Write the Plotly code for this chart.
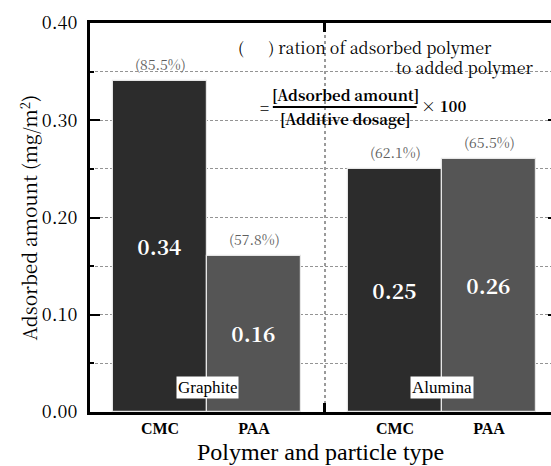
import plotly.graph_objects as go

# Adsorbed amount per polymer / particle combination
polymers = ["CMC", "PAA", "CMC", "PAA"]
particles = ["Graphite", "Graphite", "Alumina", "Alumina"]
adsorbed = [0.34, 0.16, 0.25, 0.26]          # mg/m2
ratio_pct = [85.5, 57.8, 62.1, 65.5]          # adsorbed / added polymer (%)
bar_colors = ["#2c2c2c", "#555555", "#2c2c2c", "#555555"]
y_ticks = [0.0, 0.1, 0.2, 0.3, 0.4]

# bar centres: two groups of two touching bars
xpos = [0, 1, 2.5, 3.5]
divider = 1.75
xrange = [-0.745, 4.159]

MINCHO = "Noto Serif CJK JP"
TIMES = "Liberation Serif"

fig = go.Figure()

fig.add_trace(go.Bar(
    x=xpos, y=adsorbed, width=1,
    marker=dict(color=bar_colors, line=dict(color="#e6e6e6", width=1.2)),
    text=[f"{v:.2f}" for v in adsorbed],
    textposition="inside", insidetextanchor="middle",
    textfont=dict(family=MINCHO, size=21, color="white", weight="bold"),
    textangle=0,
    showlegend=False, hoverinfo="skip",
))

# ratio labels above each bar
for xv, yv, p in zip(xpos, adsorbed, ratio_pct):
    fig.add_annotation(x=xv, y=yv, text=f"({p:.1f}%)", showarrow=False,
                       xanchor="center", yanchor="bottom", yshift=5,
                       font=dict(family=MINCHO, size=14, color="#5e5e5e"))

grid = dict(gridcolor="#949494", griddash="3px,2px", gridwidth=1)

fig.update_layout(
    width=551, height=466,
    margin=dict(l=90, r=0, t=23, b=54),
    paper_bgcolor="white", plot_bgcolor="white",
    bargap=0,
    font=dict(family=MINCHO, color="black"),
    xaxis=dict(
        range=xrange, tickmode="array", tickvals=xpos, ticktext=polymers,
        ticks="", showgrid=False, zeroline=False,
        showline=True, linecolor="black", linewidth=3, mirror=True,
        tickfont=dict(family=TIMES, size=16, weight="bold"),
    ),
    xaxis2=dict(
        range=xrange, overlaying="x", side="bottom", tickmode="array",
        tickvals=[divider], showticklabels=False,
        ticks="inside", ticklen=9, tickwidth=3, tickcolor="black",
        mirror="ticks", showline=False, zeroline=False,
        showgrid=True, gridcolor="#9a9a9a", griddash="dot", gridwidth=2,
    ),
    yaxis=dict(
        range=[0, 0.4], tickmode="array", tickvals=y_ticks,
        ticktext=[f"{t:.2f}" for t in y_ticks],
        ticks="inside", ticklen=10, tickwidth=2, tickcolor="black",
        showline=True, linecolor="black", linewidth=3,
        zeroline=False, showgrid=True, **grid,
        tickfont=dict(family=MINCHO, size=18),
        ticklabelstandoff=6,
        minor=dict(dtick=0.05, ticks="inside", ticklen=4, tickwidth=2,
                   tickcolor="black", showgrid=True, **grid),
    ),
    yaxis2=dict(
        range=[0, 0.4], overlaying="y", side="right", tickmode="array",
        tickvals=y_ticks, showticklabels=False, ticks="inside",
        ticklen=3, tickwidth=2, tickcolor="black",
        showline=False, showgrid=False, zeroline=False,
    ),
)

# invisible trace to activate the overlaid axes
fig.add_trace(go.Scatter(x=[xpos[0]], y=[0], xaxis="x2", yaxis="y2",
                         mode="markers", marker=dict(opacity=0),
                         showlegend=False, hoverinfo="skip"))

# axis titles
fig.add_annotation(text="Adsorbed amount (mg/m<sup>2</sup>)", xref="paper", yref="paper",
                   x=0, y=0.5, xshift=-62, textangle=-90, showarrow=False,
                   xanchor="center", yanchor="middle",
                   font=dict(family=MINCHO, size=19))
fig.add_annotation(text="Polymer and particle type", xref="paper", yref="paper",
                   x=0.5, y=0, yshift=-40, showarrow=False,
                   xanchor="center", yanchor="middle",
                   font=dict(family=TIMES, size=24))
# particle labels
for cx, name in [(0.5, particles[0]), (3.0, particles[2])]:
    fig.add_annotation(text=name, x=cx, y=0.025, showarrow=False,
                       xanchor="center", yanchor="middle", bgcolor="white",
                       borderpad=1, font=dict(family=TIMES, size=17))
# ratio definition
fig.add_annotation(text="(      ) ration of adsorbed polymer", x=0.81, y=0.375,
                   showarrow=False, xanchor="left", yanchor="middle",
                   font=dict(family=MINCHO, size=16))
fig.add_annotation(text="to added polymer", x=3.99, y=0.354,
                   showarrow=False, xanchor="right", yanchor="middle",
                   font=dict(family=MINCHO, size=16))
fig.add_annotation(text="=", x=1.106, y=0.313, showarrow=False,
                   xanchor="center", yanchor="middle",
                   font=dict(family=MINCHO, size=15, weight="bold"))
fig.add_annotation(text="[Adsorbed amount]", x=1.97, y=0.3265, showarrow=False,
                   xanchor="center", yanchor="middle",
                   font=dict(family=MINCHO, size=15, weight="bold"))
fig.add_annotation(text="[Additive dosage]", x=1.97, y=0.3015, showarrow=False,
                   xanchor="center", yanchor="middle",
                   font=dict(family=MINCHO, size=15, weight="bold"))
fig.add_annotation(text="× 100", x=2.75, y=0.315, showarrow=False,
                   xanchor="left", yanchor="middle",
                   font=dict(family=MINCHO, size=15, weight="bold"))

# fraction bar
fig.add_shape(type="line", x0=1.20, x1=2.73, y0=0.3136, y1=0.3136,
              line=dict(color="black", width=2))

fig.write_html("out.html")
